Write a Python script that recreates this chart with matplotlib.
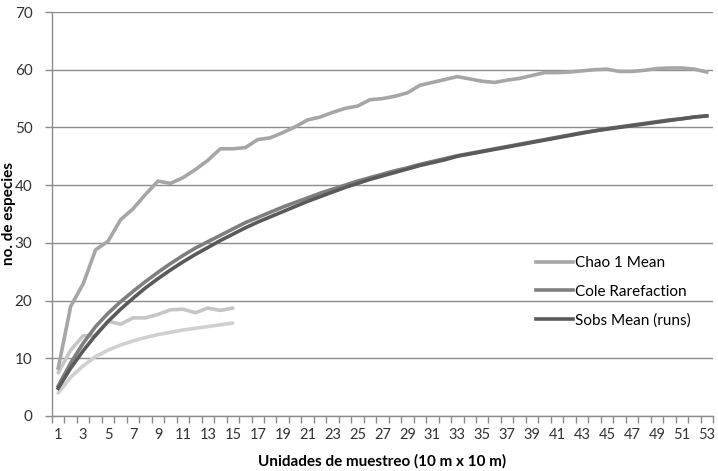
#importing libraries
import numpy as np
from matplotlib import pyplot as plt
from matplotlib.ticker import FixedLocator

plt.rcParams['font.family'] = ['Lato', 'DejaVu Sans']

###########################################################
#data
units = list(range(1, 54))

chao1 = [8.3, 19.0, 22.9, 28.8, 30.3, 34.0, 35.9, 38.4, 40.7, 40.3,
         41.3, 42.7, 44.3, 46.3, 46.3, 46.5, 47.9, 48.2, 49.1, 50.1,
         51.3, 51.8, 52.6, 53.3, 53.7, 54.8, 55.0, 55.4, 56.0, 57.3,
         57.8, 58.3, 58.8, 58.4, 58.0, 57.8, 58.2, 58.5, 59.0, 59.5,
         59.5, 59.6, 59.8, 60.0, 60.1, 59.7, 59.7, 59.9, 60.2, 60.3,
         60.3, 60.1, 59.6]

cole = [5.2, 9.2, 12.6, 15.5, 17.8, 19.8, 21.6, 23.3, 24.9, 26.4,
        27.8, 29.1, 30.2, 31.3, 32.4, 33.5, 34.4, 35.3, 36.2, 37.0,
        37.8, 38.6, 39.3, 40.0, 40.7, 41.3, 41.9, 42.5, 43.0, 43.6,
        44.1, 44.6, 45.1, 45.5, 45.9, 46.3, 46.7, 47.1, 47.5, 47.9,
        48.3, 48.7, 49.1, 49.4, 49.8, 50.1, 50.4, 50.7, 51.0, 51.3,
        51.5, 51.8, 52.0]

sobs = [4.8, 8.3, 11.3, 14.0, 16.4, 18.5, 20.4, 22.2, 23.8, 25.3,
        26.7, 28.0, 29.2, 30.4, 31.5, 32.6, 33.6, 34.5, 35.4, 36.3,
        37.2, 38.0, 38.8, 39.6, 40.3, 41.0, 41.6, 42.2, 42.8, 43.4,
        43.9, 44.4, 45.0, 45.4, 45.8, 46.2, 46.6, 47.0, 47.4, 47.8,
        48.2, 48.6, 49.0, 49.4, 49.7, 50.0, 50.3, 50.6, 50.9, 51.2,
        51.5, 51.8, 52.0]

# the two short unlabeled series (units 1-15)
units_short = list(range(1, 16))
chao_short = [7.5, 11.4, 13.9, 13.9, 16.4, 15.9, 17.0, 17.0, 17.6, 18.4,
              18.5, 17.9, 18.7, 18.3, 18.7]
sobs_short = [4.0, 6.7, 8.7, 10.3, 11.4, 12.3, 13.0, 13.6, 14.1, 14.5,
              14.9, 15.2, 15.5, 15.8, 16.1]

xlabels = [str(u) for u in units[::2]]

###########################################################
#plot
fig = plt.figure(figsize=(7.18, 4.71), dpi=100)
ax = fig.add_axes([0.0724, 0.1168, 0.9206, 0.8577])

gridc = '#8c8c8c'
lw = 2.6

ax.plot(units_short, sobs_short, color='#d0d0d0', lw=lw, solid_capstyle='round')
ax.plot(units_short, chao_short, color='#c6c6c6', lw=lw, solid_capstyle='round')
ax.plot(units, chao1, color='#a6a6a6', lw=lw, label='Chao 1 Mean')
ax.plot(units, cole, color='#7f7f7f', lw=lw, label='Cole Rarefaction')
ax.plot(units, sobs, color='#5a5a5a', lw=lw, label='Sobs Mean (runs)')

ax.set_xlim(0.5, 53.5)
ax.set_ylim(0, 70)
ax.set_yticks(range(0, 71, 10))
ax.yaxis.grid(True, color=gridc, lw=1)
ax.set_axisbelow(True)

ax.set_xticks(units[::2])
ax.set_xticklabels(xlabels)
ax.xaxis.set_minor_locator(FixedLocator(np.arange(0.5, 54, 1)))
ax.tick_params(axis='x', which='major', length=0, pad=9, labelsize=10.5, colors='#333333')
ax.tick_params(axis='x', which='minor', length=5, width=1, color=gridc)
ax.tick_params(axis='y', length=5, width=1, color=gridc, pad=9, labelsize=11, labelcolor='#333333')

for s in ['top', 'right']:
    ax.spines[s].set_visible(False)
for s in ['left', 'bottom']:
    ax.spines[s].set_color(gridc)
    ax.spines[s].set_linewidth(1)

ax.set_xlabel('Unidades de muestreo (10 m x 10 m)', fontsize=11, fontweight='bold', labelpad=8)
ax.set_ylabel('no. de especies', fontsize=11, fontweight='bold')
ax.yaxis.set_label_coords(-0.054, 0.5)

ax.legend(loc='upper left', bbox_to_anchor=(0.712, 0.43), frameon=False,
          fontsize=11, handlelength=2.4, handletextpad=0.1, labelspacing=0.95)

fig.savefig('out.png', dpi=100)
